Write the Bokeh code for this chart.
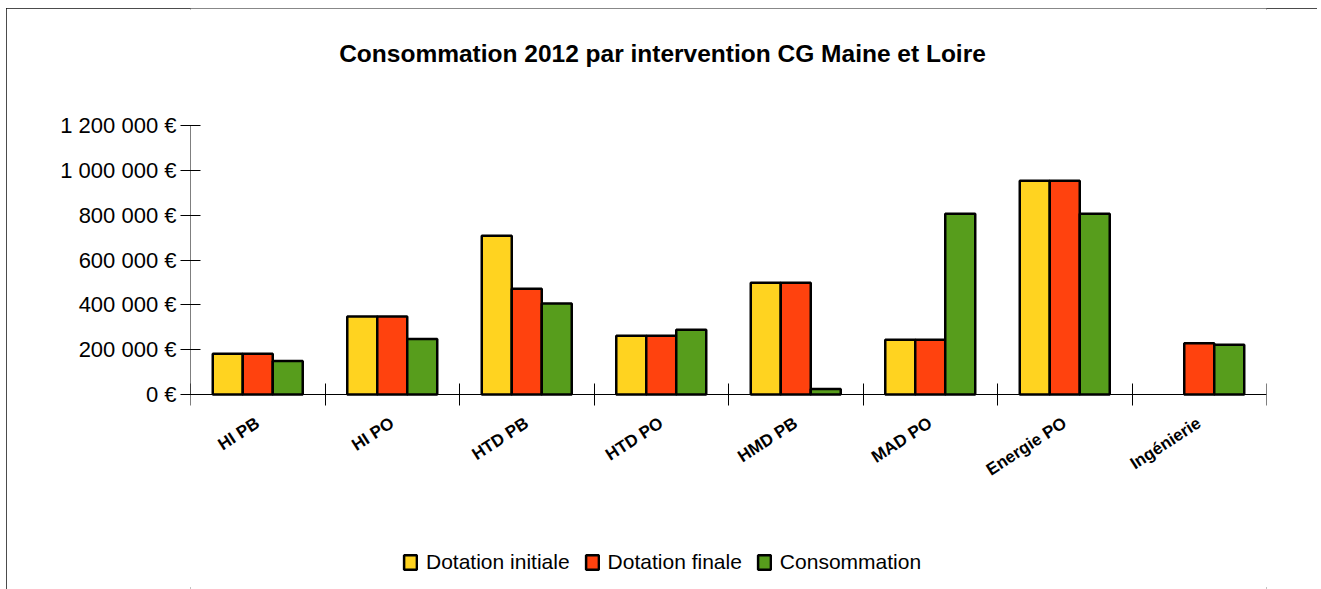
import math
from bokeh.plotting import figure
from bokeh.models import (ColumnDataSource, FixedTicker, Legend, LegendItem, Range1d,
                          Label, LinearAxis, CustomJSTickFormatter)
from bokeh.transform import dodge
from bokeh.embed import file_html
from bokeh.resources import INLINE

categories = ["HI PB", "HI PO", "HTD PB", "HTD PO", "HMD PB", "MAD PO", "Energie PO", "Ingénierie"]
dotation_initiale = [182000, 348000, 708000, 262000, 498000, 244000, 953000, float("nan")]
dotation_finale = [182000, 348000, 472000, 262000, 498000, 244000, 953000, 229000]
consommation = [150000, 248000, 406000, 289000, 24000, 806000, 806000, 222000]
series_names = ["Dotation initiale", "Dotation finale", "Consommation"]
series_colors = ["#FFD320", "#FF420E", "#579D1C"]
y_ticks = [0, 200000, 400000, 600000, 800000, 1000000, 1200000]
y_tick_labels = ["0 €", "200 000 €", "400 000 €", "600 000 €", "800 000 €", "1 000 000 €", "1 200 000 €"]
title_text = "Consommation 2012 par intervention CG Maine et Loire"

FONT = "Liberation Sans"

# geometry (pixels, relative to the figure)
FIG_W, FIG_H = 1311, 581
TOP_GAP = 117                # figure top -> top tick
VALUE_AXIS_PX = 269          # 0 .. top tick
BOTTOM_GAP = FIG_H - TOP_GAP - VALUE_AXIS_PX
y_max = y_ticks[-1]
per_px = y_max / VALUE_AXIS_PX
y_range = Range1d(-BOTTOM_GAP * per_px, y_max + TOP_GAP * per_px)

x_centers = [i + 0.5 for i in range(len(categories))]
source = ColumnDataSource(dict(x=x_centers, ini=dotation_initiale, fin=dotation_finale, cons=consommation))

p = figure(width=FIG_W, height=FIG_H, x_range=Range1d(0, len(categories)),
           y_range=y_range, output_backend="svg", toolbar_location=None,
           x_axis_type=None, y_axis_type=None,
           min_border_left=184, min_border_right=51, min_border_top=0, min_border_bottom=0)
p.styles = {"outline": "2px solid #111", "outline-offset": "-2px",
            "margin-left": "6px", "margin-top": "8px"}
p.outline_line_color = None
p.xgrid.visible = False
p.ygrid.visible = False
p.background_fill_color = "white"
p.border_fill_color = "white"

bw = 0.223
renderers = []
for key, off, col in zip(["ini", "fin", "cons"], [-bw, 0, bw], series_colors):
    r = p.vbar(x=dodge("x", off), top=key, width=bw, bottom=0, source=source,
               fill_color=col, line_color="black", line_width=2.5)
    renderers.append(r)

# value axis line (from 0 to the top tick only)
p.segment(x0=[0], y0=[y_ticks[0]], x1=[0], y1=[y_max], line_color="black", line_width=1)

# x axis at value 0
xaxis = LinearAxis(fixed_location=0,
                   ticker=FixedTicker(ticks=x_centers, minor_ticks=list(range(len(categories) + 1))),
                   formatter=CustomJSTickFormatter(args=dict(labels=categories),
                                                   code="return labels[Math.floor(tick)] || '';"))
xaxis.major_tick_line_color = None
xaxis.major_tick_in = 0
xaxis.major_tick_out = 0
xaxis.minor_tick_in = 11
xaxis.minor_tick_out = 11
xaxis.minor_tick_line_color = "black"
xaxis.axis_line_color = "black"
xaxis.major_label_orientation = math.radians(33)
xaxis.major_label_standoff = 16
xaxis.major_label_text_font = FONT
xaxis.major_label_text_font_size = "17px"
xaxis.major_label_text_font_style = "bold"
xaxis.major_label_text_color = "black"
p.add_layout(xaxis, "below")

# y axis
yaxis = LinearAxis(ticker=FixedTicker(ticks=y_ticks, minor_ticks=[]),
                   formatter=CustomJSTickFormatter(args=dict(vals=y_ticks, labels=y_tick_labels),
                                                   code="const i = vals.indexOf(tick); return i >= 0 ? labels[i] : '';"))
yaxis.major_tick_in = 10
yaxis.major_tick_out = 10
yaxis.major_tick_line_color = "black"
yaxis.minor_tick_line_color = None
yaxis.axis_line_color = None
yaxis.major_label_standoff = 4
yaxis.major_label_text_font = FONT
yaxis.major_label_text_font_size = "22px"
yaxis.major_label_text_color = "black"
p.add_layout(yaxis, "left")

# title (screen units measured from the frame's bottom-left corner)
title = Label(x=472, y=FIG_H - 45, x_units="screen", y_units="screen", text=title_text,
              text_align="center", text_baseline="alphabetic",
              text_font=FONT, text_font_size="24.5px", text_font_style="bold", text_color="black")
p.add_layout(title)

legend = Legend(items=[LegendItem(label=n, renderers=[r]) for n, r in zip(series_names, renderers)],
                orientation="horizontal", location=(212, 15),
                glyph_width=16, glyph_height=18, label_height=18, label_standoff=8, spacing=14,
                padding=0, margin=0, border_line_color=None, background_fill_alpha=0,
                label_text_font=FONT, label_text_font_size="21px", label_text_color="black")
p.add_layout(legend, "center")

open("out.html", "w").write(file_html(p, INLINE))
